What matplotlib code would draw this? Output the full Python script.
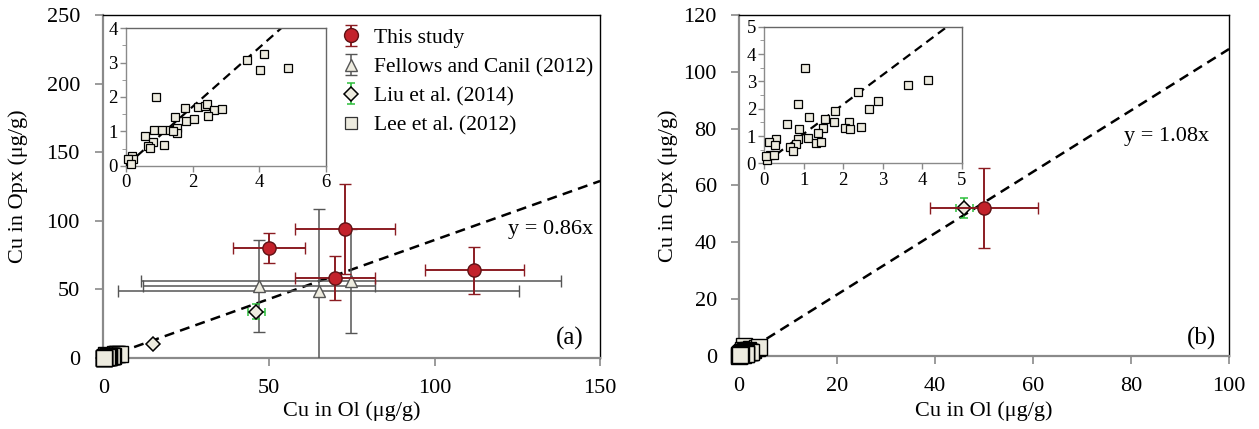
import numpy as np
import matplotlib
matplotlib.use("Agg")
import matplotlib.pyplot as plt

plt.rcParams['font.family'] = ['Liberation Serif', 'DejaVu Serif']

# ---- Panel (a): Cu in Opx vs Cu in Ol ----
this_a_x = [50, 73, 70, 112]
this_a_y = [80, 94, 58, 64]
this_a_xerr = [11, 15, 12, 15]
this_a_yerr = [11, 33, 16, 17]

fel_x = [47, 65, 74.7]
fel_y = [52.6, 48.8, 56.3]
fel_xerr = [35, 60.5, 63.4]
fel_yerr = [33.5, 60, 38]

liu_a_x = [46.2, 15]
liu_a_y = [33.7, 10]
liu_a_xerr = [2.5, 0]
liu_a_yerr = [5.5, 0]

lee_a_x = [0.9, 3.62, 4.14, 4.02, 4.87, 1.47, 1.77, 2.16, 2.38, 2.44, 2.65, 2.87,
           1.8, 2.05, 2.46, 0.85, 1.09, 1.32, 1.54, 1.52, 1.42, 0.58, 0.82, 0.67,
           0.72, 1.14, 0.17, 0.12, 0.22, 0.07, 0.15]
lee_a_y = [2.0, 3.09, 3.24, 2.78, 2.85, 1.43, 1.67, 1.72, 1.74, 1.80, 1.62, 1.65,
           1.31, 1.36, 1.45, 1.05, 1.05, 1.05, 1.09, 0.95, 1.00, 0.85, 0.68, 0.56,
           0.51, 0.61, 0.27, 0.13, 0.18, 0.20, 0.05]
slope_a = 0.86

# ---- Panel (b): Cu in Cpx vs Cu in Ol ----
this_b_x = [50]
this_b_y = [52]
this_b_xerr = [11]
this_b_yerr = [14]

liu_b_x = [46]
liu_b_y = [52]
liu_b_xerr = [1.8]
liu_b_yerr = [3.5]

lee_b_x = [1.02, 0.85, 2.37, 2.87, 2.66, 3.63, 4.14, 1.80, 1.14, 1.54, 0.58, 0.89,
           1.48, 1.77, 2.15, 2.04, 2.18, 2.45, 1.36, 1.10, 0.85, 0.80, 0.64, 0.72,
           1.32, 1.44, 0.30, 0.13, 0.26, 0.15, 0.07, 0.03, 0.24]
lee_b_y = [3.48, 2.17, 2.62, 2.28, 1.98, 2.85, 3.05, 1.93, 1.68, 1.61, 1.43, 1.27,
           1.29, 1.50, 1.51, 1.29, 1.24, 1.34, 1.10, 0.94, 0.88, 0.70, 0.61, 0.46,
           0.76, 0.77, 0.88, 0.79, 0.66, 0.30, 0.12, 0.25, 0.30]
slope_b = 1.08

legend_labels = ["This study", "Fellows and Canil (2012)", "Liu et al. (2014)", "Lee et al. (2012)"]

# ---- Styles ----
RED_FACE = "#C3222B"
RED_EDGE = "#5e1215"
RED_BAR = "#8B1C22"
GREY_BAR = "#555555"
PALE = "#EDEBDF"
GREEN = "#2DBE3C"
AXIS_GREY = "#8a8a8a"
DASH = (0, (4, 2.5))

THIS_KW = dict(fmt="o", mfc=RED_FACE, mec=RED_EDGE, mew=1.0, ecolor=RED_BAR,
               elinewidth=1.4, capsize=4, capthick=1.4)
FEL_KW = dict(fmt="^", mfc=PALE, mec="#555555", mew=1.0, ecolor=GREY_BAR,
              elinewidth=1.1, capsize=4, capthick=1.1)
LIU_KW = dict(fmt="D", mfc=PALE, mec="black", mew=1.1, ecolor=GREEN,
              elinewidth=1.2, capsize=3, capthick=1.2)


def style_main(ax, xlim, ylim, xticks, yticks, ypad):
    ax.set_xlim(*xlim)
    ax.set_ylim(*ylim)
    ax.set_xticks(xticks)
    ax.set_yticks(yticks)
    for s in ["left", "bottom"]:
        ax.spines[s].set_color(AXIS_GREY)
        ax.spines[s].set_linewidth(1.6)
    for s in ["top", "right"]:
        ax.spines[s].set_color("black")
        ax.spines[s].set_linewidth(1.0)
    ax.tick_params(axis="both", direction="out", length=6, width=1.2,
                   color=AXIS_GREY, labelsize=16)
    ax.tick_params(axis="x", pad=9)
    ax.tick_params(axis="y", pad=ypad)


def style_inset(ax, xlim, ylim, xticks, yticks):
    ax.set_xlim(*xlim)
    ax.set_ylim(*ylim)
    ax.set_xticks(xticks)
    ax.set_yticks(yticks)
    ax.set_yticks(np.arange(ylim[0], ylim[1] + 0.01, 0.5), minor=True)
    for s in ax.spines.values():
        s.set_color("#666666")
        s.set_linewidth(1.0)
    ax.spines["left"].set_color(AXIS_GREY)
    ax.spines["bottom"].set_color(AXIS_GREY)
    ax.tick_params(axis="both", direction="out", length=4, width=1.0,
                   color=AXIS_GREY, labelsize=13.5, pad=2)
    ax.tick_params(axis="y", which="minor", direction="out", length=3,
                   color=AXIS_GREY)


fig = plt.figure(figsize=(12.59, 4.29), dpi=100)
ax_a = fig.add_axes([0.0822, 0.1655, 0.3944, 0.7995])
ax_b = fig.add_axes([0.5870, 0.1702, 0.3892, 0.7950])

# ---------- Panel (a) ----------
xs = np.array([0, 150])
ax_a.plot(xs, slope_a * xs, ls=DASH, color="black", lw=1.8, zorder=2)
ax_a.plot(lee_a_x, lee_a_y, ls="none", marker="s", ms=11.5, mfc=PALE, mec="black",
          mew=1.0, clip_on=False, zorder=3)
ax_a.errorbar(fel_x, fel_y, xerr=fel_xerr, yerr=fel_yerr, ms=8.5, zorder=4, **FEL_KW)
ax_a.errorbar(liu_a_x, liu_a_y, xerr=liu_a_xerr, yerr=liu_a_yerr, ms=7, zorder=5, **LIU_KW)
ax_a.errorbar(this_a_x, this_a_y, xerr=this_a_xerr, yerr=this_a_yerr, ms=9.5,
              zorder=6, **THIS_KW)

# legend proxies: marker with a vertical error bar only
p_this = ax_a.errorbar([np.nan], [np.nan], yerr=[1], ms=10, **THIS_KW)
p_fel = ax_a.errorbar([np.nan], [np.nan], yerr=[1], ms=8.5, **FEL_KW)
p_liu = ax_a.errorbar([np.nan], [np.nan], yerr=[1], ms=7.5, **LIU_KW)
p_lee, = ax_a.plot([np.nan], [np.nan], ls="none", marker="s", ms=8, mfc=PALE,
                   mec="#333333", mew=0.9)

style_main(ax_a, (0, 150), (0, 250), [0, 50, 100, 150], [0, 50, 100, 150, 200, 250], 11)
ax_a.set_xlabel("Cu in Ol (μg/g)", fontsize=16)
ax_a.set_ylabel("Cu in Opx (μg/g)", fontsize=16)
ax_a.xaxis.set_label_coords(0.5, -0.125)
ax_a.yaxis.set_label_coords(-0.152, 0.5)
ax_a.text(135, 93.5, "y = 0.86x", fontsize=16, ha="center", va="center")
ax_a.text(141, 14.5, "(a)", fontsize=18, ha="center", va="center")

ax_a.legend([p_this, p_fel, p_liu, p_lee], legend_labels,
            loc="upper left", bbox_to_anchor=(0.45, 1.0), frameon=False, fontsize=15.5,
            handlelength=1.0, handletextpad=0.6, labelspacing=0.42, borderaxespad=0.2)

ins_a = fig.add_axes([0.1001, 0.6138, 0.1589, 0.3203])
xi = np.array([0, 4 / slope_a])
ins_a.plot(xi, slope_a * xi, ls=DASH, color="black", lw=1.6, zorder=2)
ins_a.plot(lee_a_x, lee_a_y, ls="none", marker="s", ms=6, mfc=PALE, mec="black",
           mew=0.9, zorder=3, clip_on=False)
style_inset(ins_a, (0, 6), (0, 4), [0, 2, 4, 6], [0, 1, 2, 3, 4])

# ---------- Panel (b) ----------
xs = np.array([0, 100])
ax_b.plot(xs, slope_b * xs, ls=DASH, color="black", lw=1.8, zorder=2)
ax_b.plot(lee_b_x, lee_b_y, ls="none", marker="s", ms=11.5, mfc=PALE, mec="black",
          mew=1.0, clip_on=False, zorder=3)
ax_b.errorbar(liu_b_x, liu_b_y, xerr=liu_b_xerr, yerr=liu_b_yerr, ms=7, zorder=5, **LIU_KW)
ax_b.errorbar(this_b_x, this_b_y, xerr=this_b_xerr, yerr=this_b_yerr, ms=9.5,
              zorder=6, **THIS_KW)

style_main(ax_b, (0, 100), (0, 120), [0, 20, 40, 60, 80, 100],
           [0, 20, 40, 60, 80, 100, 120], 10)
ax_b.set_xlabel("Cu in Ol (μg/g)", fontsize=16)
ax_b.set_ylabel("Cu in Cpx (μg/g)", fontsize=16)
ax_b.xaxis.set_label_coords(0.5, -0.132)
ax_b.yaxis.set_label_coords(-0.125, 0.5)
ax_b.text(87.3, 77.2, "y = 1.08x", fontsize=16, ha="center", va="center")
ax_b.text(94.4, 6.2, "(b)", fontsize=18, ha="center", va="center")

ins_b = fig.add_axes([0.6071, 0.6193, 0.1568, 0.3184])
xi = np.array([0, 5 / slope_b])
ins_b.plot(xi, slope_b * xi, ls=DASH, color="black", lw=1.6, zorder=2)
ins_b.plot(lee_b_x, lee_b_y, ls="none", marker="s", ms=6, mfc=PALE, mec="black",
           mew=0.9, zorder=3, clip_on=False)
style_inset(ins_b, (0, 5), (0, 5), [0, 1, 2, 3, 4, 5], [0, 1, 2, 3, 4, 5])

fig.savefig("out.png", dpi=100)
